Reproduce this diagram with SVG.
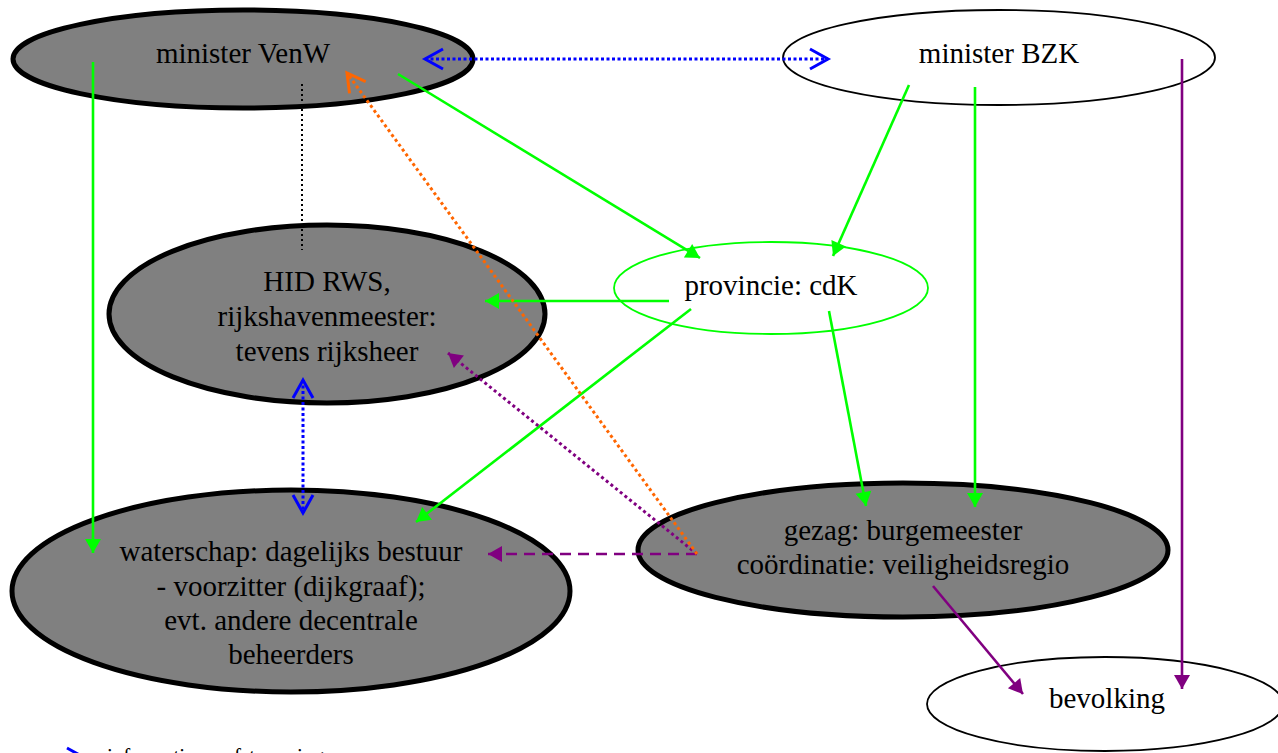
<svg xmlns="http://www.w3.org/2000/svg" width="1278" height="753" viewBox="0 0 1278 753">
<style>
.gray{fill:#808080;stroke:#000;stroke-width:5}
.white{fill:#fff;stroke:#000;stroke-width:1.8}
.prov{fill:#fff;stroke:#00ff00;stroke-width:1.8}
text{font-family:"Liberation Serif","Times New Roman",serif;font-size:29px;fill:#000;text-anchor:middle}
.green{stroke:#00ff00;stroke-width:2.6;fill:none;marker-end:url(#gA)}
.purple{stroke:#800080;stroke-width:2.6;fill:none;marker-end:url(#pA)}
.pdot{stroke:#800080;stroke-width:3;fill:none;stroke-dasharray:3 3;marker-end:url(#pA)}
.pdash{stroke:#800080;stroke-width:2.6;fill:none;stroke-dasharray:11 7;marker-end:url(#pA)}
.odot{stroke:#ff6600;stroke-width:3;fill:none;stroke-dasharray:3 3;marker-end:url(#oC)}
.bdot{stroke:#0000ff;stroke-width:3;fill:none;stroke-dasharray:3 2.5;marker-start:url(#bC);marker-end:url(#bC)}
.kdot{stroke:#000;stroke-width:2;fill:none;stroke-dasharray:2 3}
</style>
<defs>
<marker id="gA" markerUnits="userSpaceOnUse" markerWidth="16" markerHeight="16" refX="15" refY="8" orient="auto" overflow="visible"><path d="M1,0 L15,8 L1,16 z" fill="#00ff00"/></marker>
<marker id="pA" markerUnits="userSpaceOnUse" markerWidth="16" markerHeight="16" refX="15" refY="8" orient="auto" overflow="visible"><path d="M1,0 L15,8 L1,16 z" fill="#800080"/></marker>
<marker id="oC" markerUnits="userSpaceOnUse" markerWidth="20" markerHeight="22" refX="18" refY="11" orient="auto" overflow="visible"><path d="M0,1 L18,11 L0,21" fill="none" stroke="#ff6600" stroke-width="3" stroke-dasharray="none"/></marker>
<marker id="bC" markerUnits="userSpaceOnUse" markerWidth="20" markerHeight="22" refX="18" refY="11" orient="auto-start-reverse" overflow="visible"><path d="M0,1 L18,11 L0,21" fill="none" stroke="#0000ff" stroke-width="3" stroke-dasharray="none"/></marker>
</defs>
<g id="node-venw"><ellipse class="gray" cx="243" cy="59" rx="230" ry="49"/><text x="243" y="63">minister VenW</text></g>
<g id="node-bzk"><ellipse class="white" cx="999" cy="57.5" rx="216" ry="47.5"/><text x="999" y="63">minister BZK</text></g>
<g id="node-hid"><ellipse class="gray" cx="327" cy="314" rx="218" ry="89"/><text x="327" y="291">HID RWS,</text><text x="327" y="326">rijkshavenmeester:</text><text x="327" y="361">tevens rijksheer</text></g>
<g id="node-provincie"><ellipse class="prov" cx="771" cy="288" rx="157" ry="46"/><text x="771" y="295">provincie: cdK</text></g>
<g id="node-waterschap"><ellipse class="gray" cx="291" cy="591" rx="279" ry="101"/><text x="291" y="561">waterschap: dagelijks bestuur</text><text x="291" y="596">- voorzitter (dijkgraaf);</text><text x="291" y="630">evt. andere decentrale</text><text x="291" y="664">beheerders</text></g>
<g id="node-gezag"><ellipse class="gray" cx="903" cy="550" rx="265" ry="67"/><text x="903" y="540">gezag: burgemeester</text><text x="903" y="574">coördinatie: veiligheidsregio</text></g>
<g id="node-bevolking"><ellipse class="white" cx="1105" cy="704" rx="178" ry="47"/><text x="1107" y="708">bevolking</text></g>
<g id="connectors">
<line class="green" x1="93" y1="62" x2="93" y2="553"/>
<line class="green" x1="398" y1="74" x2="700" y2="258"/>
<line class="green" x1="909" y1="85" x2="833" y2="256"/>
<line class="green" x1="975" y1="87" x2="975" y2="507"/>
<line class="green" x1="669" y1="301" x2="485" y2="301"/>
<line class="green" x1="691" y1="309" x2="416" y2="522"/>
<line class="green" x1="829" y1="311" x2="866" y2="506"/>
<line class="purple" x1="1182" y1="59" x2="1182" y2="689"/>
<line class="purple" x1="933" y1="586" x2="1023" y2="694"/>
<line class="pdot" x1="697" y1="554" x2="448" y2="353"/>
<line class="pdash" x1="697" y1="554" x2="488" y2="554"/>
<line class="odot" x1="697" y1="554" x2="347" y2="73"/>
<line class="bdot" x1="425" y1="59" x2="828" y2="59"/>
<line class="bdot" x1="303" y1="380" x2="303" y2="513"/>
<line class="kdot" x1="302" y1="84" x2="302" y2="250"/>
</g>
<g id="legend">
<line x1="20" y1="758" x2="85" y2="758" stroke="#0000ff" stroke-width="3" stroke-dasharray="3 2.5"/>
<path d="M67,748 L85,758 L67,768" fill="none" stroke="#0000ff" stroke-width="3"/>
<text x="107" y="763" style="font-size:21px;text-anchor:start">informatie en afstemming</text>
</g>
</svg>
